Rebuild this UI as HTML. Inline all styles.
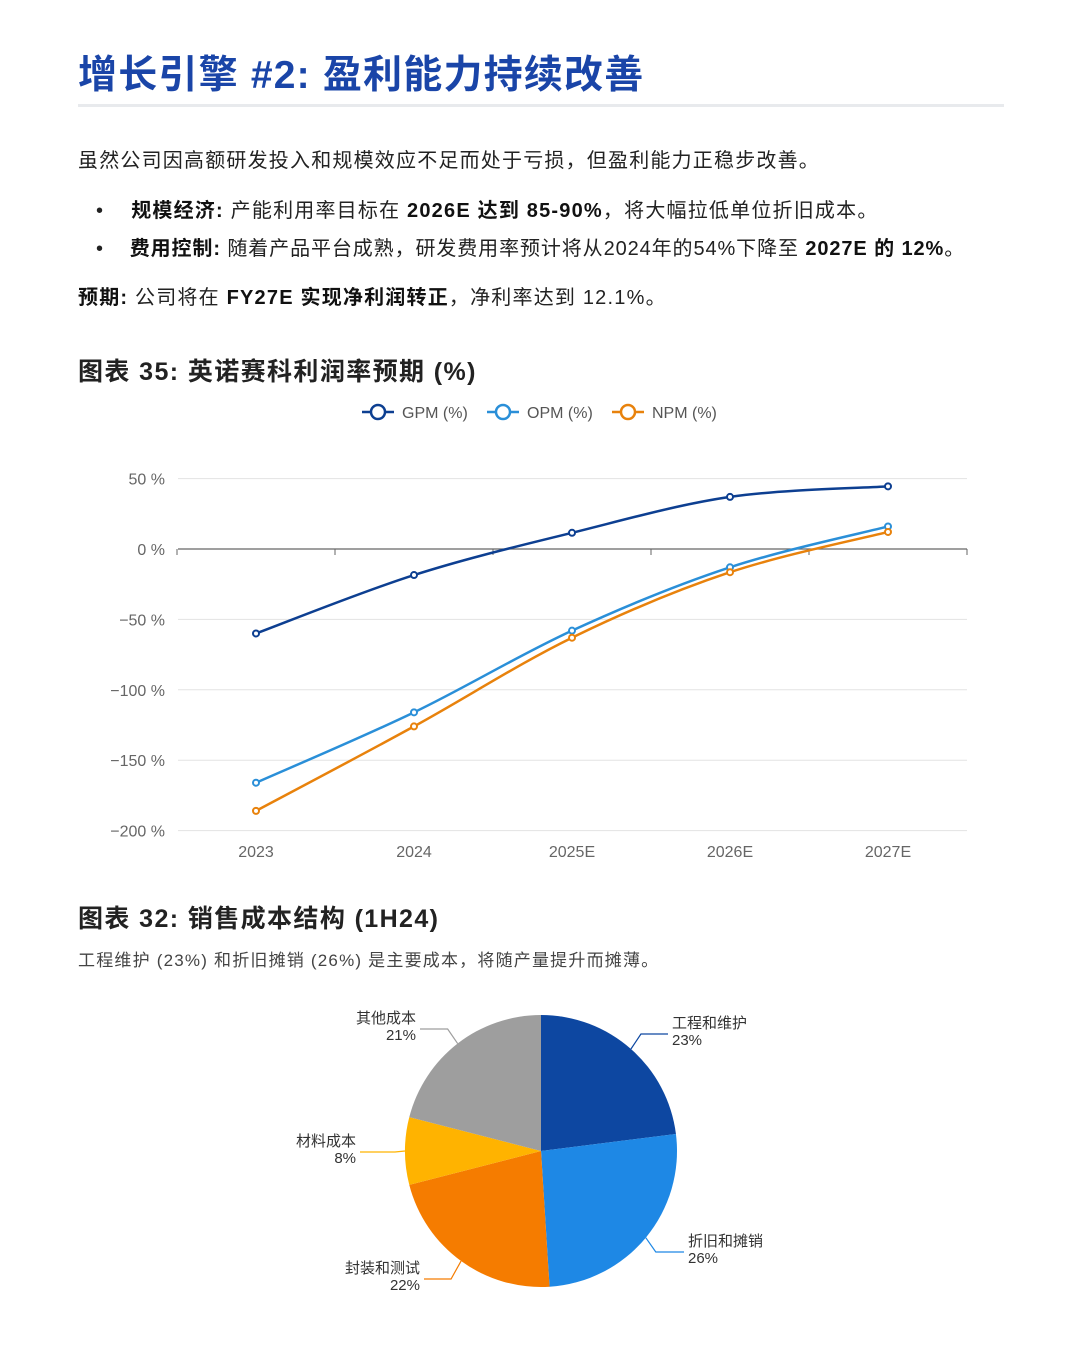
<!DOCTYPE html>
<html><head><meta charset="utf-8">
<style>
body{margin:0;width:1080px;height:1366px;background:#fff;font-family:"Liberation Sans","Noto Sans CJK SC",sans-serif;color:#222;position:relative;overflow:hidden}
.abs{position:absolute;white-space:nowrap}
h1{position:absolute;left:78px;top:44px;margin:0;font-size:39px;color:#1a45a8;font-weight:bold;letter-spacing:1.2px}
.rule{position:absolute;left:78px;top:104px;width:926px;height:3px;background:#e8eaed}
.p{font-size:20px;color:#222;letter-spacing:1.2px}
b{font-weight:bold;color:#111}
h2{position:absolute;left:78px;margin:0;font-size:25px;font-weight:bold;color:#222;letter-spacing:1.4px}
</style></head><body>
<h1>增长引擎 #2: 盈利能力持续改善</h1>
<div class="rule"></div>
<div class="abs p" style="left:78px;top:144px">虽然公司因高额研发投入和规模效应不足而处于亏损，但盈利能力正稳步改善。</div>
<div class="abs p" style="left:96px;top:194px">•&nbsp;&nbsp;&nbsp;&nbsp;<b>规模经济:</b> 产能利用率目标在 <b>2026E 达到 85-90%</b>，将大幅拉低单位折旧成本。</div>
<div class="abs p" style="left:96px;top:232px;letter-spacing:0.9px">•&nbsp;&nbsp;&nbsp;&nbsp;<b>费用控制:</b> 随着产品平台成熟，研发费用率预计将从2024年的54%下降至 <b>2027E 的 12%</b>。</div>
<div class="abs p" style="left:78px;top:281px"><b>预期:</b> 公司将在 <b>FY27E 实现净利润转正</b>，净利率达到 12.1%。</div>
<h2 style="top:352px">图表 35: 英诺赛科利润率预期 (%)</h2>
<svg id="lc" class="abs" style="left:0;top:390px" width="1080" height="480"></svg>
<h2 style="top:899px">图表 32: 销售成本结构 (1H24)</h2>
<div class="abs" style="left:78px;top:946px;font-size:17px;color:#444;letter-spacing:1.2px">工程维护 (23%) 和折旧摊销 (26%) 是主要成本，将随产量提升而摊薄。</div>
<svg id="pc" class="abs" style="left:0;top:990px" width="1080" height="330"></svg>
<script>
const categories=["2023","2024","2025E","2026E","2027E"];
const gpm=[-60,-18.5,11.5,37,44.5];
const opm=[-166,-116,-58,-13,16];
const npm=[-186,-126,-63,-16.5,12.1];
const yTicks=[50,0,-50,-100,-150,-200];
const seriesNames=["GPM (%)","OPM (%)","NPM (%)"];
const seriesColors=["#0d3f91","#2a8fd8","#e8820c"];
const pieLabels=["工程和维护","折旧和摊销","封装和测试","材料成本","其他成本"];
const pieValues=[23,26,22,8,21];
const pieColors=["#0d47a1","#1e88e5","#f57c00","#ffb300","#9e9e9e"];
const NS="http://www.w3.org/2000/svg";
function mk(p,t,a){const e=document.createElementNS(NS,t);for(const k in a)e.setAttribute(k,a[k]);p.appendChild(e);return e;}
const lc=document.getElementById('lc');
const top0=390;
const xS=i=>256+i*158;
const yS=v=>(549-top0)-v*70.4/50;
yTicks.forEach(t=>{
 const g=mk(lc,'line',{x1:178,x2:967,y1:yS(t),y2:yS(t),stroke:t===0?'#666':'#e3e3e3','stroke-width':t===0?1.2:1});
 
 
 const tx=mk(lc,'text',{x:165,y:yS(t)+6,'text-anchor':'end','font-size':16,fill:'#666'});
 tx.textContent=(t<0?'\u2212'+(-t):t)+' %';
 
 
});
[177,335,493,651,809,967].forEach(x=>{mk(lc,'line',{x1:x,x2:x,y1:yS(0),y2:yS(0)+6,stroke:'#666'});});
categories.forEach((c,i)=>{
 const t=mk(lc,'text',{x:xS(i),y:467,'text-anchor':'middle','font-size':16,fill:'#666'});
 t.textContent=c;
 
 
});
function path(vals){
 const p=vals.map((v,i)=>[xS(i),yS(v)]);
 let d='M'+p[0][0]+','+p[0][1];
 for(let i=0;i<p.length-1;i++){
  const p0=p[i-1]||p[i],p1=p[i],p2=p[i+1],p3=p[i+2]||p2;
  const c1=[p1[0]+(p2[0]-p0[0])/6,p1[1]+(p2[1]-p0[1])/6];
  const c2=[p2[0]-(p3[0]-p1[0])/6,p2[1]-(p3[1]-p1[1])/6];
  d+=' C'+c1+' '+c2+' '+p2;
 }
 return d;
}
[gpm,opm,npm].forEach((s,k)=>{
 const pl=mk(lc,'path',{d:path(s),fill:'none',stroke:seriesColors[k],'stroke-width':2.5});
 
 
 s.forEach((v,i)=>{
  const c=mk(lc,'circle',{cx:xS(i),cy:yS(v),r:3,fill:'#fff',stroke:seriesColors[k],'stroke-width':2});
  
  
 });
 const lx=[362,487,612][k];
 const g=mk(lc,'g',{});
 
 
 mk(g,'line',{x1:lx,x2:lx+32,y1:22,y2:22,stroke:seriesColors[k],'stroke-width':2.5});
 mk(g,'circle',{cx:lx+16,cy:22,r:7,fill:'#fff',stroke:seriesColors[k],'stroke-width':2.5});
 const t=mk(g,'text',{x:lx+40,y:28,'font-size':16,fill:'#555'});t.textContent=seriesNames[k];
});
const pc=document.getElementById('pc');
const cx=541,cy=161,R=136;
const tot=pieValues.reduce((a,b)=>a+b,0);
let a0=-Math.PI/2;
const labelPos=[[672,36,'start'],[688,254,'start'],[420,281,'end'],[356,154,'end'],[416,31,'end']];
pieValues.forEach((v,i)=>{
 const a1=a0+v/tot*2*Math.PI;
 const x0=cx+R*Math.cos(a0),y0=cy+R*Math.sin(a0),x1=cx+R*Math.cos(a1),y1=cy+R*Math.sin(a1);
 const s=mk(pc,'path',{d:`M${cx},${cy} L${x0},${y0} A${R},${R} 0 ${a1-a0>Math.PI?1:0} 1 ${x1},${y1} Z`,fill:pieColors[i]});
 
 
 const am=(a0+a1)/2;
 const ex=cx+R*Math.cos(am),ey=cy+R*Math.sin(am);
 const L=labelPos[i];
 const right=L[2]==='start';
 const hx=right?L[0]-4:L[0]+4;
 mk(pc,'polyline',{points:`${ex},${ey} ${ex+(right?10:-10)},${L[1]+8} ${hx},${L[1]+8}`,fill:'none',stroke:pieColors[i],'stroke-width':1.2});
 const t=mk(pc,'text',{x:L[0],y:L[1]+2,'text-anchor':L[2],'font-size':15,fill:'#333'});
 t.textContent=pieLabels[i];
 
 
 const t2=mk(pc,'text',{x:L[0],y:L[1]+19,'text-anchor':L[2],'font-size':15,fill:'#333'});
 t2.textContent=v+'%';
 
 
 a0=a1;
});
</script>
</body></html>
